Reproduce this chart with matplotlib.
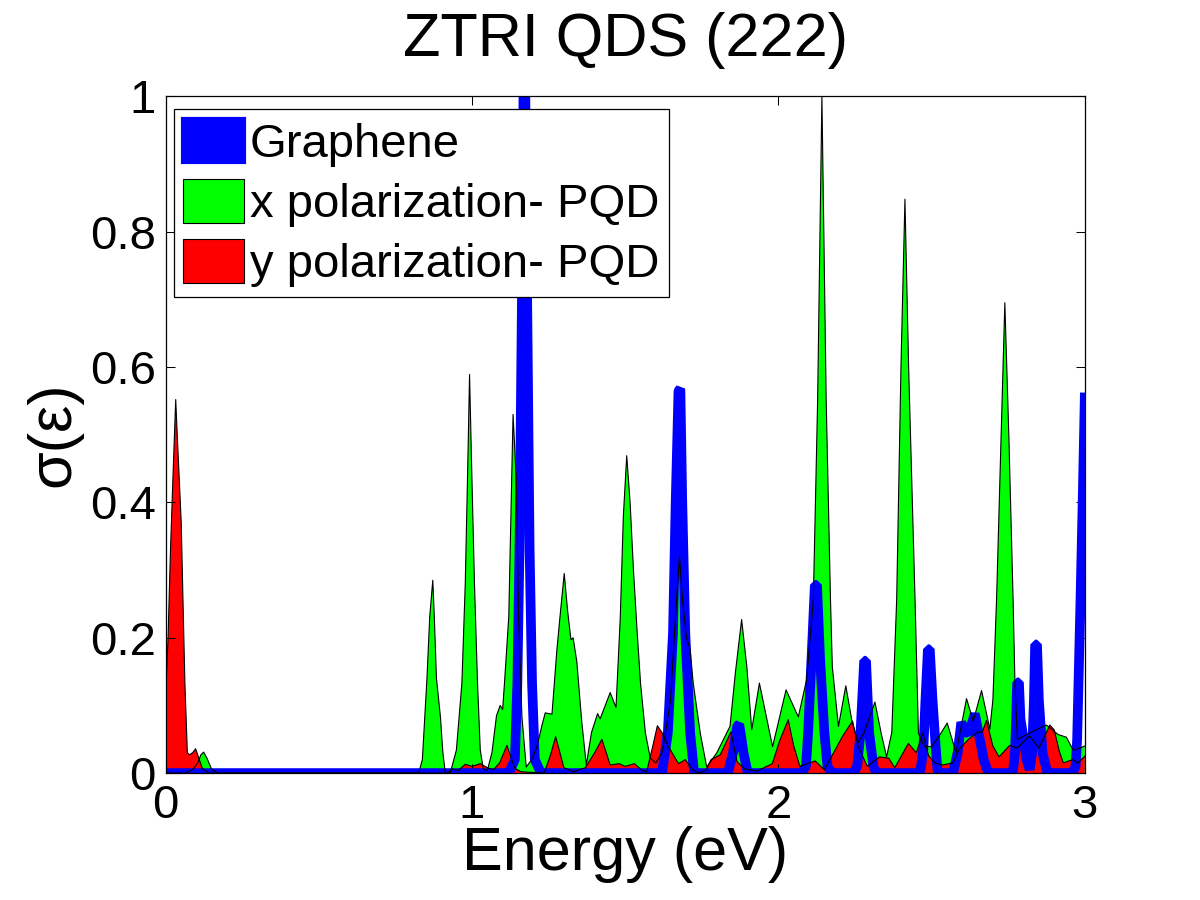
import matplotlib
matplotlib.use("Agg")
import matplotlib.pyplot as plt
from matplotlib.patches import Patch

plt.rcParams['font.family'] = ['Liberation Sans', 'DejaVu Sans']

# x polarization - PQD (green area)
x_pol_E = [0.0, 0.065, 0.09, 0.105, 0.115, 0.124, 0.135, 0.15, 0.17, 0.826,
           0.838, 0.846, 0.853, 0.862, 0.872, 0.877, 0.884, 0.897, 0.905, 0.913,
           0.929, 0.949, 0.967, 0.978, 0.986, 0.992, 0.999, 1.008, 1.018, 1.027,
           1.037, 1.05, 1.065, 1.08, 1.092, 1.1, 1.106, 1.12, 1.127, 1.134,
           1.145, 1.152, 1.163, 1.177, 1.195, 1.212, 1.228, 1.239, 1.261, 1.277,
           1.288, 1.301, 1.312, 1.323, 1.33, 1.342, 1.358, 1.373, 1.39, 1.41,
           1.418, 1.451, 1.47, 1.484, 1.494, 1.505, 1.516, 1.527, 1.538, 1.55,
           1.566, 1.582, 1.60, 1.62, 1.63, 1.648, 1.661, 1.677, 1.687, 1.70,
           1.712, 1.722, 1.745, 1.766, 1.799, 1.842, 1.86, 1.88, 1.897, 1.913,
           1.938, 1.981, 2.025, 2.065, 2.092, 2.114, 2.128, 2.142, 2.156, 2.17,
           2.176, 2.196, 2.22, 2.24, 2.26, 2.28, 2.315, 2.335, 2.353, 2.37,
           2.386, 2.40, 2.413, 2.425, 2.446, 2.457, 2.475, 2.50, 2.525, 2.551,
           2.58, 2.614, 2.636, 2.663, 2.69, 2.70, 2.712, 2.727, 2.739, 2.752,
           2.766, 2.772, 2.78, 2.82, 2.85, 2.875, 2.913, 2.94, 2.962, 2.978, 3.0]
x_pol_val = [0.0, 0.0, 0.006, 0.015, 0.027, 0.031, 0.022, 0.006, 0.0, 0.0,
             0.02, 0.083, 0.14, 0.231, 0.285, 0.231, 0.14, 0.083, 0.03, 0.0,
             0.0, 0.034, 0.133, 0.28, 0.45, 0.589, 0.45, 0.281, 0.133, 0.034,
             0.006, 0.004, 0.03, 0.085, 0.10, 0.094, 0.133, 0.231, 0.379, 0.53,
             0.429, 0.231, 0.083, 0.009, 0.02, 0.039, 0.07, 0.089, 0.087, 0.182,
             0.235, 0.295, 0.24, 0.197, 0.20, 0.165, 0.077, 0.012, 0.06, 0.088,
             0.08, 0.119, 0.097, 0.231, 0.38, 0.469, 0.40, 0.30, 0.216, 0.133,
             0.059, 0.022, 0.015, 0.03, 0.055, 0.108, 0.207, 0.321, 0.256, 0.20,
             0.182, 0.133, 0.059, 0.009, 0.03, 0.069, 0.15, 0.227, 0.157, 0.064,
             0.133, 0.039, 0.123, 0.083, 0.138, 0.256, 0.55, 1.0, 0.55, 0.256,
             0.157, 0.069, 0.129, 0.077, 0.045, 0.06, 0.105, 0.06, 0.024, 0.06,
             0.256, 0.6, 0.848, 0.6, 0.256, 0.059, 0.04, 0.039, 0.055, 0.074,
             0.03, 0.11, 0.077, 0.122, 0.065, 0.108, 0.256, 0.5, 0.695, 0.5,
             0.256, 0.133, 0.05, 0.059, 0.066, 0.071, 0.057, 0.053, 0.034, 0.036, 0.04]

# y polarization - PQD (red area)
y_pol_E = [0.0, 0.008, 0.016, 0.025, 0.033, 0.039, 0.051, 0.058, 0.063, 0.071,
           0.078, 0.088, 0.098, 0.11, 0.12, 0.14, 0.92, 0.935, 0.955, 0.978,
           1.0, 1.027, 1.05, 1.07, 1.09, 1.114, 1.13, 1.14, 1.16, 1.235,
           1.255, 1.273, 1.29, 1.30, 1.33, 1.37, 1.40, 1.424, 1.451, 1.48,
           1.50, 1.53, 1.555, 1.57, 1.59, 1.605, 1.62, 1.64, 1.674, 1.696,
           1.72, 1.74, 1.765, 1.78, 1.81, 1.845, 1.865, 1.89, 1.93, 1.98,
           2.005, 2.032, 2.05, 2.07, 2.12, 2.15, 2.18, 2.21, 2.242, 2.26,
           2.29, 2.33, 2.36, 2.38, 2.424, 2.45, 2.471, 2.49, 2.51, 2.534,
           2.57, 2.59, 2.62, 2.652, 2.665, 2.679, 2.70, 2.72, 2.755, 2.78,
           2.82, 2.85, 2.886, 2.90, 2.917, 2.93, 2.96, 2.977, 3.0]
y_pol_val = [0.113, 0.2, 0.33, 0.45, 0.552, 0.49, 0.37, 0.23, 0.133, 0.03,
             0.027, 0.03, 0.036, 0.02, 0.007, 0.0, 0.0, 0.006, 0.004, 0.013,
             0.01, 0.014, 0.008, 0.005, 0.015, 0.041, 0.02, 0.007, 0.002, 0.0,
             0.025, 0.054, 0.025, 0.008, 0.002, 0.008, 0.03, 0.05, 0.012, 0.014,
             0.01, 0.014, 0.004, 0.002, 0.04, 0.07, 0.06, 0.04, 0.014, 0.02,
             0.005, 0.0, 0.005, 0.02, 0.027, 0.061, 0.017, 0.006, 0.003, 0.014,
             0.049, 0.079, 0.04, 0.01, 0.018, 0.005, 0.03, 0.055, 0.077, 0.04,
             0.01, 0.024, 0.022, 0.008, 0.044, 0.03, 0.059, 0.026, 0.015, 0.012,
             0.015, 0.035, 0.05, 0.061, 0.06, 0.078, 0.04, 0.024, 0.041, 0.037,
             0.055, 0.037, 0.071, 0.064, 0.032, 0.015, 0.02, 0.015, 0.025]

# Graphene (thick blue line)
gr_E = [0.0, 1.12, 1.14, 1.148, 1.155, 1.163, 1.168, 1.174, 1.18, 1.188,
        1.196, 1.205, 1.225, 1.62, 1.639, 1.656, 1.665, 1.674, 1.68, 1.686,
        1.696, 1.712, 1.725, 1.835, 1.852, 1.86, 1.866, 1.872, 1.878, 1.886,
        1.90, 2.075, 2.09, 2.097, 2.108, 2.119, 2.126, 2.136, 2.15, 2.16,
        2.175, 2.245, 2.257, 2.268, 2.28, 2.286, 2.296, 2.31, 2.32, 2.455,
        2.464, 2.473, 2.48, 2.488, 2.494, 2.503, 2.514, 2.519, 2.53, 2.57,
        2.585, 2.597, 2.61, 2.622, 2.641, 2.655, 2.67, 2.685, 2.765, 2.772,
        2.776, 2.779, 2.785, 2.79, 2.797, 2.81, 2.82, 2.828, 2.834, 2.838,
        2.844, 2.85, 2.862, 2.878, 2.96, 2.97, 2.975, 2.986, 2.993, 3.0]
gr_val = [0.0, 0.0, 0.02, 0.133, 0.33, 0.7, 1.0, 1.0, 0.7, 0.33,
          0.133, 0.02, 0.0, 0.0, 0.059, 0.207, 0.404, 0.565, 0.568, 0.404,
          0.207, 0.059, 0.0, 0.0, 0.03, 0.055, 0.07, 0.072, 0.055, 0.03,
          0.0, 0.0, 0.01, 0.06, 0.168, 0.278, 0.278, 0.168, 0.06, 0.01,
          0.0, 0.0, 0.01, 0.06, 0.166, 0.166, 0.06, 0.01, 0.0, 0.0,
          0.005, 0.034, 0.108, 0.183, 0.183, 0.108, 0.034, 0.005, 0.0, 0.0,
          0.03, 0.075, 0.062, 0.058, 0.088, 0.055, 0.02, 0.0, 0.0, 0.03,
          0.08, 0.134, 0.134, 0.08, 0.06, 0.02, 0.005, 0.03, 0.108, 0.19,
          0.19, 0.108, 0.03, 0.0, 0.0, 0.01, 0.05, 0.256, 0.4, 0.555]

green = (0, 1, 0)
red = (1, 0, 0)
blue = (0, 0, 1)

fig = plt.figure(figsize=(12, 9), dpi=100)
ax = fig.add_axes([0.138, 0.141, 0.766, 0.752])

ax.fill_between(x_pol_E, 0, x_pol_val, facecolor=green, edgecolor='none', zorder=1)
ax.fill_between(y_pol_E, 0, y_pol_val, facecolor=red, edgecolor='none', zorder=1.5)
ax.plot(gr_E, gr_val, color=blue, lw=7, solid_joinstyle='bevel', zorder=2)
ax.plot(x_pol_E, x_pol_val, color='k', lw=0.8, zorder=3)
ax.plot(y_pol_E, y_pol_val, color='k', lw=0.8, zorder=3)

ax.set_xlim(0, 3)
ax.set_ylim(0, 1)
ax.set_xticks([0, 1, 2, 3])
ax.set_yticks([0, 0.2, 0.4, 0.6, 0.8, 1])
ax.set_yticklabels(['0', '0.2', '0.4', '0.6', '0.8', '1'])
ax.tick_params(direction='in', length=6.5, width=0.75, top=True, right=True,
               labelsize=34, colors='k')
ax.tick_params(axis='x', pad=8)
ax.tick_params(axis='y', pad=7)
for s in ax.spines.values():
    s.set_linewidth(0.9)
    s.set_zorder(5)

ax.set_title('ZTRI QDS (222)', fontsize=44, pad=29)
ax.set_xlabel('Energy (eV)', fontsize=44)
ax.set_ylabel('σ(ε)', fontsize=44)
ax.xaxis.set_label_coords(0.5, -0.078)
ax.yaxis.set_label_coords(-0.09, 0.5)

handles = [Patch(facecolor=blue, edgecolor=blue, lw=3),
           Patch(facecolor=green, edgecolor='k', lw=0.8),
           Patch(facecolor=red, edgecolor='k', lw=0.8)]
labels = ['Graphene', 'x polarization- PQD', 'y polarization- PQD']
leg = ax.legend(handles, labels, loc='upper left', bbox_to_anchor=(0.0087, 0.981),
                borderaxespad=0, fontsize=34, handlelength=1.3, handleheight=1.05,
                handletextpad=0.12, labelspacing=0.26, borderpad=0.2,
                fancybox=False, framealpha=1)
leg.get_frame().set_edgecolor('k')
leg.get_frame().set_linewidth(0.9)
leg.set_zorder(6)

fig.savefig('out.png', dpi=100)
